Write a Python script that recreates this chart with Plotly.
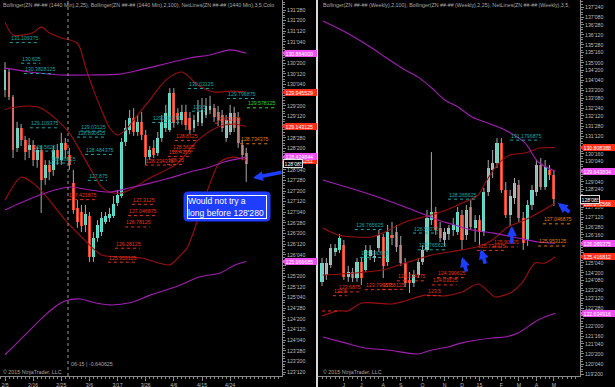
import plotly.graph_objects as go

FONT = "Liberation Sans, Arial, sans-serif"
W, H = 615, 387

# ---------------- Left panel: daily (1440 Min) ----------------
d_open = [130.00,130.42,129.83,128.64,129.11,128.82,128.59,128.71,128.35,128.59,
          127.93,128.24,128.12,128.59,128.35,128.75,128.47,127.81,127.23,127.13,
          126.83,127.04,126.08,126.52,126.66,126.90,126.99,127.04,127.34,127.51,
          128.78,129.06,129.34,129.01,129.25,128.94,128.42,128.64,128.52,128.87,
          129.11,129.06,129.93,129.46,129.29,129.48,129.34,129.11,129.25,129.22,
          129.41,129.53,129.57,129.48,129.41,128.87,129.01,129.46,129.34,128.71,128.52]
d_close = [130.47,129.83,128.59,129.11,128.82,128.54,128.71,128.35,128.59,127.88,
           128.24,128.07,128.59,128.40,128.75,128.59,128.24,127.18,126.90,126.80,
           127.09,126.08,126.52,126.83,126.99,127.04,127.09,127.32,127.53,128.78,
           129.11,129.34,129.01,129.25,128.94,128.42,128.59,128.47,128.87,129.25,
           129.46,129.93,129.22,129.29,129.48,129.18,129.06,129.29,129.48,129.53,
           129.62,129.62,129.36,129.29,129.11,129.29,129.46,129.11,128.75,128.47,128.27]
d_high = [130.65,130.51,129.88,129.25,129.20,128.92,128.87,128.82,128.68,128.68,
          128.35,128.35,128.68,128.73,128.99,128.87,128.64,128.12,127.41,127.30,
          127.30,127.13,126.66,126.94,127.13,127.13,127.23,127.51,127.65,128.87,
          129.29,129.53,129.57,129.41,129.48,129.06,128.68,128.82,129.01,129.41,
          129.65,130.04,130.04,129.57,129.65,129.65,129.48,129.41,129.76,129.81,
          129.81,129.86,129.67,129.62,129.53,129.41,129.65,129.60,129.48,128.82,128.64]
d_low = [129.83,129.76,128.40,128.54,128.68,128.35,128.40,128.21,128.17,127.11,
         127.77,127.88,127.98,128.24,128.24,128.40,128.12,127.09,126.76,126.66,
         126.66,125.96,125.96,126.43,126.57,126.85,126.90,126.99,127.27,127.46,
         128.68,128.96,128.92,128.92,128.82,128.24,128.35,128.40,128.45,128.78,
         129.01,129.01,129.11,129.18,129.18,129.06,128.96,129.01,129.15,129.15,
         129.34,129.43,129.25,129.15,129.01,128.78,128.94,129.01,128.64,128.35,127.84]
d_tick_pos = [0, 7, 14, 21, 28, 35, 42, 49, 56]
d_tick_text = ["2/5", "2/16", "2/25", "3/6", "3/17", "3/26", "4/6", "4/15", "4/24"]
d_price_ticks = ["131'280","131'200","131'120","131'040","130'280","130'200","130'120","130'040",
                 "129'280","129'200","129'120","129'040","128'280","128'200","128'120","128'040",
                 "127'280","127'200","127'120","127'040","126'280","126'200","126'120","126'040",
                 "125'280","125'200","125'120","125'040","124'280","124'200","124'120","124'040",
                 "123'280","123'200","123'120"]
d_hidden_ticks = ["130'280", "129'280", "129'040", "128'120", "125'280"]

d_bb25_up_x = [0, 2, 7, 9, 11, 14, 18, 20, 22, 24, 26, 28, 30, 32, 36, 40, 44, 48, 52, 56, 60]
d_bb25_up_y = [131.59, 131.29, 131.34, 131.48, 131.34, 131.22, 131.10, 130.54, 130.00, 129.53, 129.11,
               128.94, 129.06, 129.29, 129.76, 130.23, 130.42, 130.11, 129.95, 129.97, 129.95]
d_bb25_mid_x = [0, 1, 6, 9, 13, 16, 20, 24, 26, 29, 32, 36, 43, 48, 53, 57, 60]
d_bb25_mid_y = [129.53, 129.57, 129.62, 129.57, 129.29, 128.99, 128.35, 127.72, 127.60, 127.58, 127.70,
                127.93, 128.28, 128.82, 129.13, 129.20, 129.14]
d_bb25_lo_x = [0, 4, 7, 10, 15, 19, 24, 28, 34, 41, 43.5, 45.3, 48.5, 51, 53.5, 56.7, 60]
d_bb25_lo_y = [127.41, 127.95, 127.81, 127.53, 126.94, 126.55, 126.12, 126.08, 126.05, 125.89, 126.10,
               126.29, 127.11, 127.81, 128.31, 128.42, 128.35]
d_bb100_up_x = [0, 6.2, 11.2, 13.7, 21.1, 28.6, 33.6, 38.6, 46, 51, 56, 60]
d_bb100_up_y = [130.51, 130.42, 130.37, 130.35, 130.35, 130.37, 130.47, 130.58, 130.75, 130.82, 130.94, 130.86]
d_bb100_mid_x = [0, 3.7, 8.7, 12.4, 16.2, 21.1, 26.1, 31.1, 36.1, 41, 46, 51, 54.7, 60]
d_bb100_mid_y = [127.18, 127.34, 127.53, 127.65, 127.72, 127.65, 127.60, 127.70, 127.81, 127.93, 128.07,
                 128.19, 128.31, 128.42]
d_bb100_lo_x = [0, 2.5, 6.2, 10, 12.4, 14.9, 18.7, 22.4, 26.1, 31.1, 36.1, 42.3, 48.5, 53.5, 57.2, 60]
d_bb100_lo_y = [123.78, 124.01, 124.36, 124.71, 124.90, 125.04, 125.09, 125.00, 124.95, 125.00, 125.18,
                125.37, 125.61, 125.70, 125.89, 125.97]

d_net_text = ["131.109375", "130.625", "130.3828125", "129.109375", "129.03125", "128.890625", "128.5625",
              "128.484375", "128.28125", "127.875", "130.03125", "129.796875", "129.5", "129.234375",
              "129.578125",
              "129.21875", "128.8125", "128.5625", "128.4375", "128.234375", "128.25", "127.421875",
              "127.3125", "127.046875", "126.78125", "126.28125", "125.953125",
              "128.734375"]
d_net_x = [1.2, 4.0, 4.7, 6.2, 18.7, 17.9, 7.0, 19.9, 11.2, 20.6, 45.5, 55.2, 46.5, 36.6,
           60.2,
           52.2, 42.3, 41.5, 40.5, 34.8, 40.3, 15.7, 31.6, 30.6, 29.9, 27.4, 25.6,
           58.5]
d_net_kind = ["t"] * 14 + ["g"] + ["r"] * 12 + ["o"]

d_tag_text = ["130.864000", "129.945529", "129.143125", "128.341251", "128.424844", "125.966685"]
d_tag_kind = ["p", "r", "r", "r", "p", "p"]
d_last_text = "128'085"
d_last = 128.266

# ---------------- Right panel: weekly ----------------
w_open = [124.18,124.52,125.02,125.66,125.76,126.00,124.42,124.67,124.37,125.16,
          124.77,125.46,125.36,125.85,126.40,125.16,126.50,126.64,126.00,125.11,
          124.28,124.13,124.52,125.16,125.76,127.24,127.63,126.84,126.25,126.55,
          126.74,126.64,127.48,126.50,127.88,126.84,127.24,126.64,128.62,129.70,
          130.05,131.04,128.72,127.48,128.32,128.96,127.34,126.25,127.98,128.62,
          129.95,128.87,129.70,129.46]
w_close = [125.11,125.11,125.85,125.85,126.35,124.42,124.67,124.37,125.16,124.37,
           125.76,125.76,125.46,126.50,124.97,126.64,126.35,125.90,125.11,124.13,
           124.13,124.52,125.16,125.76,127.34,127.63,126.74,126.35,126.64,126.84,
           126.99,127.63,126.25,127.73,126.89,127.24,126.64,128.62,129.80,130.05,
           131.04,128.72,127.48,128.42,129.06,127.34,126.10,127.98,128.72,129.95,
           128.87,129.85,129.46,128.27]
w_high = [125.36,125.36,126.05,126.05,126.55,126.25,124.97,124.87,125.36,125.36,
          126.00,126.00,125.76,126.74,126.55,126.99,127.14,126.99,126.45,125.36,
          124.67,124.77,125.36,126.00,127.73,130.59,127.88,127.14,126.84,126.99,
          127.34,127.88,127.73,127.98,128.22,127.48,127.48,128.82,130.20,130.69,
          131.28,131.28,129.11,128.72,129.31,129.21,127.63,128.22,128.96,130.20,
          130.30,130.20,129.95,129.70]
w_low = [123.98,124.28,124.87,125.46,125.61,124.28,124.18,124.18,124.18,124.03,
         124.67,125.26,125.16,125.66,124.37,124.97,126.00,125.66,124.97,123.93,
         123.63,123.93,124.37,125.02,125.66,126.99,126.50,126.15,125.95,126.25,
         126.45,126.50,125.76,126.25,126.74,126.15,126.00,126.45,128.42,129.31,
         129.80,128.57,127.34,126.94,128.03,127.14,125.76,125.95,127.73,128.42,
         128.72,128.72,129.21,127.93]
w_tick_pos = [5, 9, 14, 18, 23, 28, 32, 36, 41, 45, 49, 53]
w_tick_text = ["J", "J", "A", "S", "O", "N", "D", "15", "F", "M", "A", "M"]
w_price_ticks = ["137'240","137'080","136'280","136'120","135'280","135'160","135'000","134'200",
                 "134'040","133'200","133'080","132'240","132'120","131'280","131'120","130'280",
                 "130'160","130'040","129'200","129'040","128'240","128'080","127'280","127'120",
                 "126'280","126'160","126'000","125'200","125'040","124'200","124'080","123'240",
                 "123'120","122'280","122'120","122'000","121'160","121'040","120'200","120'040",
                 "119'200"]
w_hidden_ticks = ["130'280", "129'200", "128'080", "126'000", "125'200", "122'120"]

w_bb100_up_x = [0.2, 5.3, 11.4, 14.4, 19, 21.9, 25.1, 28.1, 31.1, 34.3, 38.4, 41.8, 46.4, 49.4, 53.3]
w_bb100_up_y = [137.06, 136.52, 135.73, 135.28, 134.64, 134.30, 133.75, 133.16, 132.81, 132.32, 131.98,
                131.68, 131.04, 130.10, 129.64]
w_bb100_mid_x = [0.2, 11.4, 19, 26.5, 31.1, 34.3, 38.9, 44.8, 49.4, 53.3]
w_bb100_mid_y = [129.21, 128.47, 127.88, 127.24, 126.94, 126.74, 126.60, 126.35, 126.15, 126.09]
w_bb100_lo_x = [0.2, 5.3, 9.8, 15.1, 21.9, 25.1, 28.8, 32, 38.9, 41.8, 44.8, 49.4, 53.3]
w_bb100_lo_y = [121.46, 121.17, 120.92, 120.82, 120.62, 120.82, 120.97, 121.17, 121.41, 121.46, 121.66,
                122.30, 122.63]
w_bb25_up_x = [0.2, 3.7, 11.4, 14.4, 19, 22.4, 26.5, 31.1, 35.7, 37.3, 40, 43, 46.4, 49.8, 53.3]
w_bb25_up_y = [126.84, 126.50, 126.40, 126.64, 127.14, 127.34, 127.58, 127.98, 128.47, 129.06, 129.95,
               130.45, 130.54, 130.79, 130.81]
w_bb25_mid_x = [0.2, 7.5, 13.7, 19, 25.1, 32, 36.1, 38.9, 42.5, 46.4, 49.4, 53.3]
w_bb25_mid_y = [124.52, 124.62, 124.77, 125.11, 125.51, 125.76, 125.95, 126.25, 126.89, 127.24, 127.58, 128.08]
w_bb25_lo_x = [0, 3.7, 5.9, 9.1, 16, 19, 23.5, 28.1, 32, 35.7, 39.5, 41.1, 43.4, 45.7, 48.7, 51, 53.3]
w_bb25_lo_y = [122.50, 122.75, 122.75, 123.14, 123.09, 123.24, 123.53, 123.49, 123.68, 124.08, 123.44,
               123.49, 123.68, 124.13, 125.11, 125.11, 125.42]

w_net_text = ["131.1796875", "128.265625", "126.765625", "126.59375", "125.765625", "125.390625",
              "125.90625", "125.734375", "124.234375", "124.390625", "124.03125", "123.5", "123.6875",
              "123.5", "123.796875", "123.8125",
              "127.046875", "125.953125"]
w_net_x = [43.0, 28.8, 7.5, 20.8, 21.9, 8.7,
           39.1, 35.4, 17.1, 26.3, 25.1, 24.0, 3.7,
           2.5, 9.8, 13.7,
           50.5, 49.4]
w_net_kind = ["t"] * 6 + ["r"] * 10 + ["o"] * 2

w_tag_text = ["130.808388", "129.643834", "128.072566", "126.089375", "125.416812", "122.634916"]
w_tag_kind = ["r", "p", "r", "p", "r", "p"]
w_last_text = "128'085"
w_last = 128.266

# ---------------- styling ----------------
UP, DN, WICK = "#5fe3cf", "#f23a22", "#a8a8a8"
BB25C, BB100C = "#9a1010", "#a21fb2"
NETC = {"t": "#1aa5a5", "r": "#e3341f", "o": "#e07a00", "g": "#2fd62f"}
TAGC = {"p": "#f24ff2", "r": "#ff2d1a"}
AX = "#8a8a8a"
TXT = "#bdbdbd"
BLUE = "#1f3dff"


def price32(s):
    a, b = s.split("'")
    return int(a) + int(b) / 320.0


fig = go.Figure()


def add_candles(xa, ya, o, h, l, c):
    n = len(o)
    wx, wy = [], []
    for i in range(n):
        wx += [i, i, None]
        wy += [l[i], h[i], None]
    fig.add_trace(go.Scatter(x=wx, y=wy, mode="lines", line=dict(color=WICK, width=1),
                             xaxis=xa, yaxis=ya, hoverinfo="skip", showlegend=False))
    base = [min(o[i], c[i]) for i in range(n)]
    hgt = [max(abs(c[i] - o[i]), 0.015) for i in range(n)]
    col = [UP if c[i] >= o[i] else DN for i in range(n)]
    fig.add_trace(go.Bar(x=list(range(n)), y=hgt, base=base, width=0.72,
                         marker=dict(color=col, line=dict(width=0)),
                         xaxis=xa, yaxis=ya, showlegend=False, hoverinfo="skip"))


def add_line(xa, ya, xs, ys, color, w=1.1):
    fig.add_trace(go.Scatter(x=xs, y=ys, mode="lines", line=dict(color=color, width=w, shape="spline",
                                                                 smoothing=0.8),
                             xaxis=xa, yaxis=ya, hoverinfo="skip", showlegend=False))


add_candles("x", "y", d_open, d_high, d_low, d_close)
add_candles("x2", "y2", w_open, w_high, w_low, w_close)
for xs, ys, col in [(d_bb25_up_x, d_bb25_up_y, BB25C), (d_bb25_mid_x, d_bb25_mid_y, BB25C),
                    (d_bb25_lo_x, d_bb25_lo_y, BB25C), (d_bb100_up_x, d_bb100_up_y, BB100C),
                    (d_bb100_mid_x, d_bb100_mid_y, BB100C), (d_bb100_lo_x, d_bb100_lo_y, BB100C)]:
    add_line("x", "y", xs, ys, col)
for xs, ys, col in [(w_bb25_up_x, w_bb25_up_y, BB25C), (w_bb25_mid_x, w_bb25_mid_y, BB25C),
                    (w_bb25_lo_x, w_bb25_lo_y, BB25C), (w_bb100_up_x, w_bb100_up_y, BB100C),
                    (w_bb100_mid_x, w_bb100_mid_y, BB100C), (w_bb100_lo_x, w_bb100_lo_y, BB100C)]:
    add_line("x2", "y2", xs, ys, col)

annotations = []
shapes = []
NET_FS = 5.2
CHAR_W = 2.75


def net_labels(xref, yref, texts, xs, kinds, px_per_unit):
    for t, x0, k in zip(texts, xs, kinds):
        lvl = float(t)
        col = NETC[k]
        annotations.append(dict(xref=xref, yref=yref, x=x0, y=lvl, text=t, showarrow=False,
                                xanchor="left", yanchor="bottom", yshift=0.5, borderpad=0,
                                font=dict(family=FONT, size=NET_FS, color=col)))
        shapes.append(dict(type="line", xref=xref, yref=yref, x0=x0,
                           x1=x0 + len(t) * CHAR_W / px_per_unit, y0=lvl, y1=lvl,
                           line=dict(color=col, width=1, dash="dot")))


net_labels("x", "y", d_net_text, d_net_x, d_net_kind, 4.02)
net_labels("x2", "y2", w_net_text, w_net_x, w_net_kind, 4.375)
# lone dotted netline at the left edge of the weekly panel
shapes.append(dict(type="line", xref="x2", yref="y2", x0=0, x1=4.2, y0=122.745, y1=122.745,
                   line=dict(color=NETC["r"], width=1, dash="dot")))

# y-axis positions -> pixel rows (for the pointed tag tips)
Y_RANGES = {"y": (123.281, 132.110), "y2": (119.536, 138.0955)}
PLOT_TOP, PLOT_BOT = 0, 376


def py_of(yref, v):
    lo, hi = Y_RANGES[yref]
    return PLOT_TOP + (hi - v) / (hi - lo) * (PLOT_BOT - PLOT_TOP)


def tip(x_px, yref, v, color):
    yy = py_of(yref, v)
    p = (f"M{(x_px - 3) / W:.5f},{1 - yy / H:.5f} L{(x_px + 0.5) / W:.5f},{1 - (yy - 3.2) / H:.5f} "
         f"L{(x_px + 0.5) / W:.5f},{1 - (yy + 3.2) / H:.5f} Z")
    shapes.append(dict(type="path", xref="paper", yref="paper", path=p, fillcolor=color,
                       line=dict(width=0), layer="above"))


def tags(yref, x_px, texts, kinds, last_text, last_val, box_px):
    for t, k in zip(texts, kinds):
        tip(x_px, yref, float(t), TAGC[k])
        annotations.append(dict(xref="paper", yref=yref, x=x_px / W, y=float(t), text=t,
                                showarrow=False, xanchor="left", yanchor="middle", align="left",
                                width=31, height=6, borderpad=0.5, bgcolor=TAGC[k],
                                bordercolor=TAGC[k], borderwidth=0,
                                font=dict(family=FONT, size=5.2, color="white")))
    annotations.append(dict(xref="paper", yref=yref, x=box_px / W, y=last_val, text=last_text,
                            showarrow=False, xanchor="left", yanchor="middle", align="left",
                            width=17, height=6, borderpad=0.5, bgcolor="black",
                            bordercolor="#e0e0e0", borderwidth=1,
                            font=dict(family=FONT, size=5.2, color="white")))


tags("y", 285, d_tag_text, d_tag_kind, d_last_text, d_last, 283)
tags("y2", 583, w_tag_text, w_tag_kind, w_last_text, w_last, 580)

# header / footer texts
small = dict(family=FONT, size=5.3, color="#a8a8a8")
annotations += [
    dict(xref="paper", yref="paper", x=1 / W, y=1 - 5 / H, xanchor="left", yanchor="middle",
         showarrow=False, font=small,
         text="Bollinger(ZN ##-## (1440 Min),2,25), Bollinger(ZN ##-## (1440 Min),2,100), NetLines(ZN ##-## (1440 Min),3,5,Colo"),
    dict(xref="paper", yref="paper", x=321 / W, y=1 - 5 / H, xanchor="left", yanchor="middle",
         showarrow=False, font=small,
         text="Bollinger(ZN ##-## (Weekly),2,100), Bollinger(ZN ##-## (Weekly),2,25), NetLines(ZN ##-## (Weekly),3,5,"),
    dict(xref="paper", yref="paper", x=1 / W, y=1 - 372 / H, xanchor="left", yanchor="middle",
         showarrow=False, font=small, text="© 2015 NinjaTrader, LLC"),
    dict(xref="paper", yref="paper", x=321 / W, y=1 - 372 / H, xanchor="left", yanchor="middle",
         showarrow=False, font=small, text="© 2015 NinjaTrader, LLC"),
    dict(xref="paper", yref="paper", x=69 / W, y=1 - 364 / H, xanchor="left", yanchor="middle",
         showarrow=False, font=small, text="06-15 | -0.640625"),
]

# note box
bx0, bx1, by0, by1, r = 184, 270, 192, 221, 4


def P(x, y):
    return f"{x / W:.5f},{1 - y / H:.5f}"


path = (f"M{P(bx0 + r, by0)} L{P(bx1 - r, by0)} Q{P(bx1, by0)} {P(bx1, by0 + r)} "
        f"L{P(bx1, by1 - r)} Q{P(bx1, by1)} {P(bx1 - r, by1)} L{P(bx0 + r, by1)} "
        f"Q{P(bx0, by1)} {P(bx0, by1 - r)} L{P(bx0, by0 + r)} Q{P(bx0, by0)} {P(bx0 + r, by0)} Z")
shapes.append(dict(type="path", xref="paper", yref="paper", path=path, fillcolor=BLUE,
                   line=dict(color=BLUE, width=1), layer="above"))
annotations.append(dict(xref="paper", yref="paper", x=(bx0 + bx1) / 2 / W, y=1 - (by0 + by1) / 2 / H,
                        text="Would not try a<br>long before 128'280", showarrow=False, align="left",
                        xanchor="center", yanchor="middle", width=78, height=22, borderpad=0,
                        bgcolor=BLUE, bordercolor="white", borderwidth=1,
                        font=dict(family=FONT, size=8.6, color="white")))

# blue arrows
arrows = [("x", "y", 61.7, 127.93, 30, -6),
          ("x2", "y2", 53.9, 128.07, 13, 10),
          ("x2", "y2", 43.4, 126.94, 0, 19),
          ("x2", "y2", 32.0, 125.41, 5, 16),
          ("x2", "y2", 36.3, 125.80, 5, 16)]
for xr, yr, hx, hy, ax, ay in arrows:
    annotations.append(dict(xref=xr, yref=yr, x=hx, y=hy, ax=ax, ay=ay, text="", showarrow=True,
                            arrowhead=2, arrowsize=0.55, arrowwidth=3.6, arrowcolor=BLUE))

# separators
shapes.append(dict(type="line", xref="x", yref="paper", x0=15.67, x1=15.67, y0=11 / H, y1=1,
                   line=dict(color="#9a9a9a", width=1, dash="dot")))
shapes.append(dict(type="line", xref="paper", yref="paper", x0=317 / W, x1=317 / W, y0=0, y1=1,
                   line=dict(color="#d8d8d8", width=2)))

tickfont = dict(family=FONT, size=5.2, color=TXT)
xcommon = dict(showgrid=False, zeroline=False, showline=True, linecolor=AX, linewidth=1,
               ticks="outside", ticklen=4, tickcolor=AX, tickfont=tickfont, tickmode="array",
               minor=dict(dtick=1, tick0=0, ticks="outside", ticklen=2, tickcolor=AX))
ycommon = dict(showgrid=False, zeroline=False, showline=True, linecolor=AX, linewidth=1,
               ticks="outside", ticklen=3, tickcolor=AX, tickfont=tickfont, tickmode="array",
               side="right")

fig.update_layout(
    width=W, height=H, margin=dict(l=0, r=0, t=0, b=0), autosize=False,
    paper_bgcolor="black", plot_bgcolor="black", showlegend=False,
    barmode="overlay", bargap=0,
    xaxis=dict(domain=[0, 282 / W], range=[-1.244, 68.9], anchor="y",
               tickvals=d_tick_pos, ticktext=d_tick_text, **xcommon),
    yaxis=dict(domain=[11 / H, 1], range=list(Y_RANGES["y"]), anchor="x",
               tickvals=[price32(s) for s in d_price_ticks],
               ticktext=["" if s in d_hidden_ticks else s for s in d_price_ticks],
               minor=dict(dtick=0.0625, tick0=0, ticks="outside", ticklen=2, tickcolor=AX),
               **ycommon),
    xaxis2=dict(domain=[318 / W, 580 / W], range=[-0.914, 58.97], anchor="y2",
                tickvals=w_tick_pos, ticktext=w_tick_text, **xcommon),
    yaxis2=dict(domain=[11 / H, 1], range=list(Y_RANGES["y2"]), anchor="x2",
                tickvals=[price32(s) for s in w_price_ticks],
                ticktext=["" if s in w_hidden_ticks else s for s in w_price_ticks],
                minor=dict(dtick=0.125, tick0=0, ticks="outside", ticklen=2, tickcolor=AX),
                **ycommon),
    annotations=annotations, shapes=shapes,
)

fig.write_html("out.html")
